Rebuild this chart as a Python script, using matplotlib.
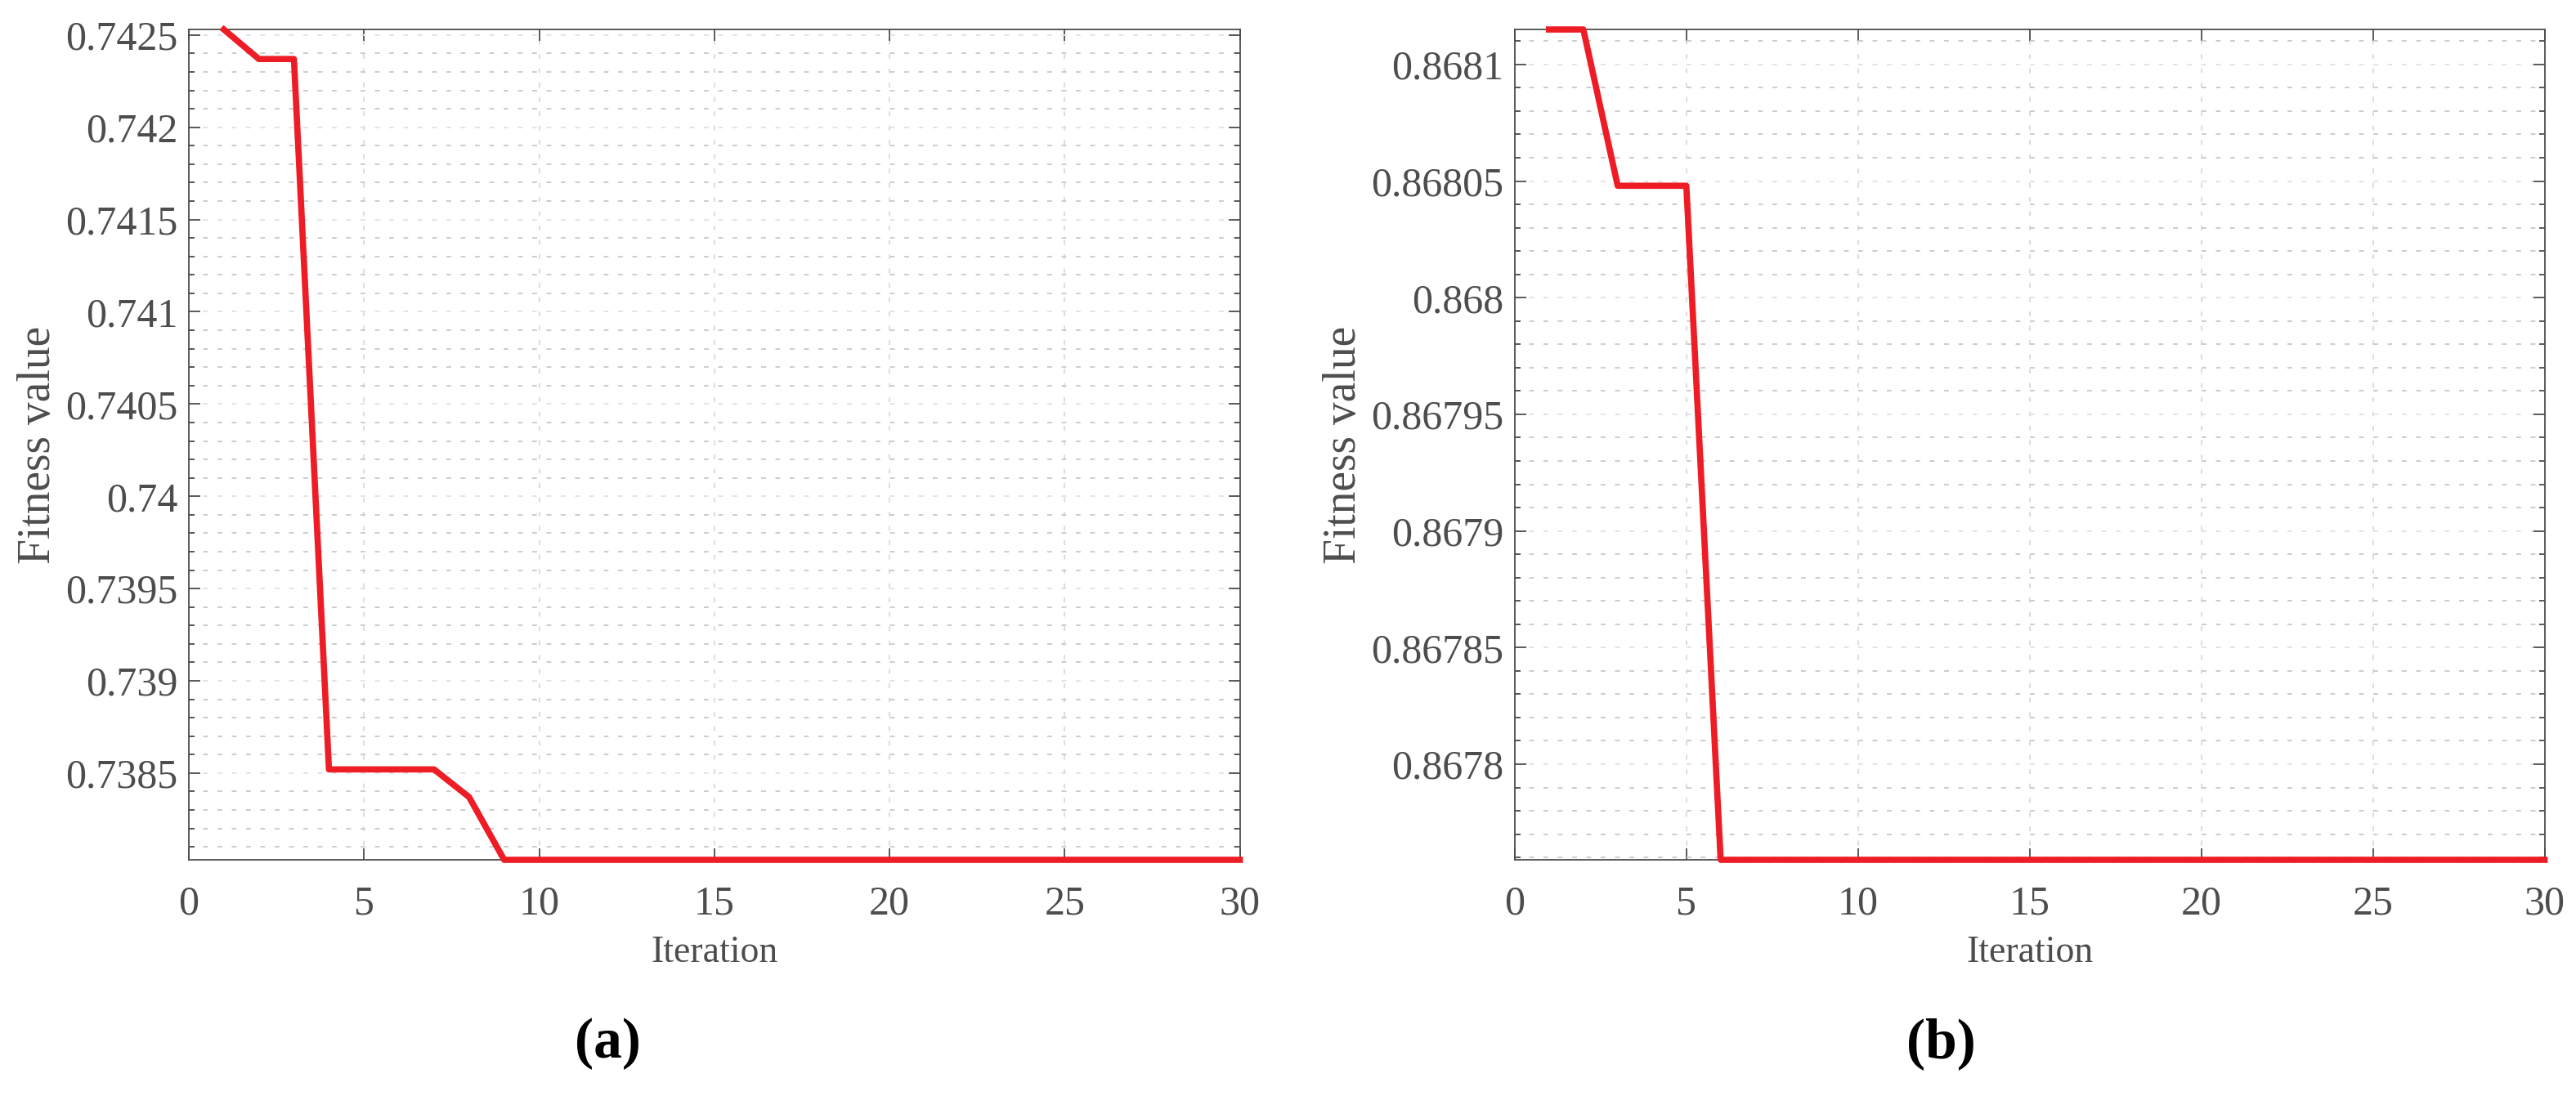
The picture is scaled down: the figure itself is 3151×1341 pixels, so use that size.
import matplotlib
matplotlib.use("Agg")
import matplotlib.pyplot as plt
from matplotlib.ticker import FixedLocator, MultipleLocator

# ---------------------------------------------------------------
# data
# ---------------------------------------------------------------
iters = list(range(1, 31))

fit_a = [0.74253, 0.74237, 0.74237, 0.73852, 0.73852, 0.73852, 0.73852,
         0.73837] + [0.73803] * 22
fit_b = [0.868115, 0.868115, 0.868048, 0.868048, 0.868048] + [0.867759] * 25

yticks_a = [0.7385, 0.739, 0.7395, 0.74, 0.7405, 0.741, 0.7415, 0.742, 0.7425]
ylabels_a = ["0.7385", "0.739", "0.7395", "0.74", "0.7405", "0.741", "0.7415",
             "0.742", "0.7425"]
yticks_b = [0.8678, 0.86785, 0.8679, 0.86795, 0.868, 0.86805, 0.8681]
ylabels_b = ["0.8678", "0.86785", "0.8679", "0.86795", "0.868", "0.86805",
             "0.8681"]
xticks = [0, 5, 10, 15, 20, 25, 30]

panels = [
    # (values, yticks, ylabels, minor step, ylim, axes rect, tag, tag x)
    (fit_a, yticks_a, ylabels_a, 0.0001, (0.73803, 0.74253),
     [0.0733, 0.2155, 0.4080, 0.7576], "(a)", 0.236),
    (fit_b, yticks_b, ylabels_b, 0.00001, (0.867759, 0.868115),
     [0.5880, 0.2155, 0.3998, 0.7576], "(b)", 0.7535),
]

GREY = "#4d4d4d"
RED = "#ee1c25"

plt.rcParams["font.family"] = ["Liberation Serif", "DejaVu Serif"]

fig = plt.figure(figsize=(31.51, 13.41), dpi=100)

for vals, yt, yl, mstep, ylim, rect, tag, tagx in panels:
    ax = fig.add_axes(rect)
    ax.plot(iters, vals, color=RED, linewidth=5.5, clip_on=False, zorder=5)

    ax.set_xlim(0, 30)
    ax.set_ylim(*ylim)
    ax.xaxis.set_major_locator(FixedLocator(xticks))
    ax.set_xticklabels([str(v) for v in xticks])
    ax.yaxis.set_major_locator(FixedLocator(yt))
    ax.set_yticklabels(yl)
    ax.yaxis.set_minor_locator(MultipleLocator(mstep))

    # matlab-ish look: box, ticks inside on all sides
    ax.tick_params(axis="both", which="both", direction="in",
                   top=True, right=True, colors=GREY, labelcolor=GREY,
                   width=1.3)
    ax.tick_params(axis="both", which="major", length=10, labelsize=36)
    ax.tick_params(axis="y", which="minor", length=5)
    ax.tick_params(axis="x", which="major", pad=22)
    ax.tick_params(axis="y", which="major", pad=10)
    for sp in ax.spines.values():
        sp.set_color(GREY)
        sp.set_linewidth(1.3)

    ax.grid(True, which="major", axis="x", color="#dcdcdc",
            linestyle=(0, (3, 6)), linewidth=1.4)
    ax.grid(True, which="major", axis="y", color="#e3e3e3",
            linestyle=(0, (3, 6)), linewidth=1.4)
    ax.grid(True, which="minor", axis="y", color="#cccccc",
            linestyle=(0, (3, 6)), linewidth=1.4)
    ax.set_axisbelow(True)

    ax.set_xlabel("Iteration", fontsize=33, color=GREY, labelpad=11)
    ax.set_ylabel("Fitness value", fontsize=40, color=GREY, labelpad=5)

    fig.text(tagx, 0.048, tag, fontsize=50, fontweight="bold",
             ha="center", va="center", color="black")

fig.savefig("out.png", dpi=100)
